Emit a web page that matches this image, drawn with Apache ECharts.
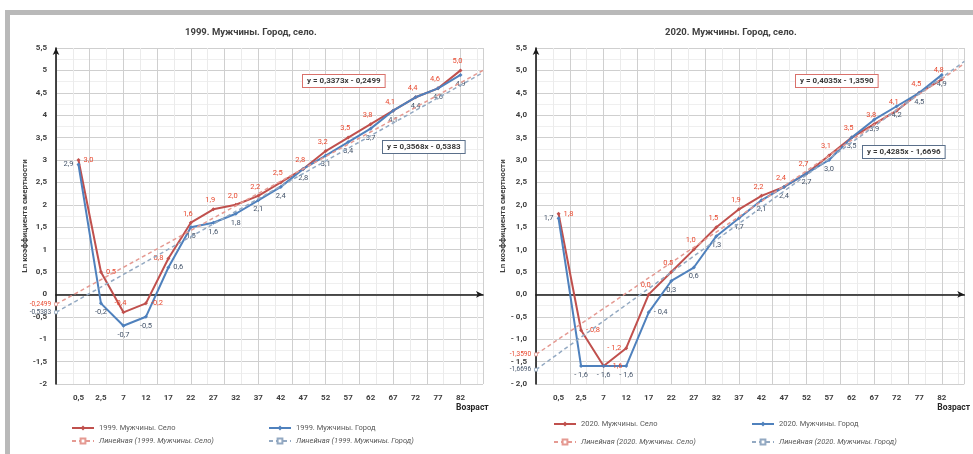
<!DOCTYPE html>
<html>
<head>
<meta charset="utf-8">
<script src="https://cdn.jsdelivr.net/npm/echarts@6/dist/echarts.min.js"></script>
<style>
body{margin:0;background:#fff}
#chart{position:absolute;left:0;top:0;width:973px;height:454px}
.frame{position:absolute;background:#b9b9b9}
</style>
</head>
<body>
<div id="chart"></div>
<div class="frame" style="left:5px;top:10px;width:968px;height:5px"></div>
<div class="frame" style="left:5px;top:10px;width:5px;height:444px"></div>
<script>
/** Ln коэффициента смертности, мужчины, город / село */

const AGES = ['0,5','2,5','7','12','17','22','27','32','37','42','47','52','57','62','67','72','77','82']

const SELO_1999  = [3.0, 0.5, -0.4, -0.2, 0.8, 1.6, 1.9, 2.0, 2.2, 2.5, 2.8, 3.2, 3.5, 3.8, 4.1, 4.4, 4.6, 5.0]
const GOROD_1999 = [2.9, -0.2, -0.7, -0.5, 0.6, 1.5, 1.6, 1.8, 2.1, 2.4, 2.8, 3.1, 3.4, 3.7, 4.1, 4.4, 4.6, 4.9]
const SELO_2020  = [1.8, -0.8, -1.6, -1.2, 0.0, 0.5, 1.0, 1.5, 1.9, 2.2, 2.4, 2.7, 3.1, 3.5, 3.8, 4.1, 4.5, 4.8]
const GOROD_2020 = [1.7, -1.6, -1.6, -1.6, -0.4, 0.3, 0.6, 1.3, 1.7, 2.1, 2.4, 2.7, 3.0, 3.5, 3.9, 4.2, 4.5, 4.9]

// линии тренда: начало у оси Y и конец у правого края
const TREND_X = [0, 19]
const TREND_SELO_1999  = [-0.22, 5.0]
const TREND_GOROD_1999 = [-0.40, 4.95]
const TREND_SELO_2020  = [-1.34, 5.15]
const TREND_GOROD_2020 = [-1.68, 5.2]

const INTERCEPTS_1999 = ['-0,2499', '-0,5383']
const INTERCEPTS_2020 = ['-1,3590', '-1,6696']
const EQUATIONS_1999 = ['y = 0,3373x - 0,2499', 'y = 0,3568x - 0,5383']
const EQUATIONS_2020 = ['y = 0,4035x - 1,3590', 'y = 0,4285x - 1,6696']

const Y_MIN = -2, Y_MAX = 5.5, Y_STEP = 0.5

const RED = '#c0504d', BLUE = '#4f81bd'
const RED_LABEL = '#e8492f', BLUE_LABEL = '#44546a'
const FONT = 'Roboto'

// положение подписей для первых точек (дальше - сверху / снизу)
const POS_SELO_1999  = ['right', 'right', 'top', 'right', 'left']
const POS_GOROD_1999 = ['left', 'bottom', 'bottom', 'bottom', 'right']
const POS_SELO_2020  = ['right', 'right', 'right', 'left', 'top']
const POS_GOROD_2020 = ['left', 'bottom', 'bottom', 'bottom', 'right']

/** число с запятой; spaced - "- 1,0" как в Excel-формате */
function fmt(v, digits, spaced) {
    let s = Math.abs(v).toFixed(digits).replace('.', ',')
    if (v < 0 && s.replace(/[0,]/g, '') !== '') s = (spaced ? '- ' : '-') + s
    return s
}

function lineSeries(name, g, values, color, labelColor, pos, defPos) {
    return {
        name: name,
        type: 'line',
        xAxisIndex: g * 3,
        yAxisIndex: g,
        data: values.map((v, i) => {
            let p = pos[i] || defPos
            return {
                value: [i + 1, v],
                label: { position: p, offset: p === 'top' && defPos === 'top' ? [-3, 0] : [0, 0] }
            }
        }),
        symbol: 'diamond',
        symbolSize: 4,
        lineStyle: { color: color, width: 2 },
        itemStyle: { color: color },
        label: {
            show: true, fontSize: 7.5, fontFamily: FONT, color: labelColor, distance: 3,
            formatter: p => fmt(p.value[1], 1, g === 1)
        },
        z: 3
    }
}

function trendSeries(name, g, ends, color, labelColor, intercept) {
    return {
        name: name,
        type: 'line',
        xAxisIndex: g * 3,
        yAxisIndex: g,
        data: TREND_X.map((x, i) => ({
            value: [x, ends[i]],
            symbolSize: i === 0 ? 3 : 0,
            label: { show: i === 0 }
        })),
        symbol: 'rect',
        showSymbol: true,
        lineStyle: { color: color, width: 1.5, type: [4, 3] },
        itemStyle: { color: '#fff', borderColor: color, borderWidth: 0.8 },
        label: {
            position: 'left', distance: 3, fontSize: 6.5, fontFamily: FONT, color: labelColor,
            formatter: () => intercept
        },
        z: 4
    }
}

function axesFor(g, yFmt) {
    let xs = [
        {   // подписи возрастов
            gridIndex: g, type: 'value', min: 0, max: 19, interval: 1, position: 'bottom',
            axisLine: { show: false, onZero: false }, axisTick: { show: false }, splitLine: { show: false },
            axisLabel: {
                fontSize: 8, fontWeight: 'bold', fontFamily: FONT, color: '#404040', margin: 10,
                formatter: v => AGES[Math.round(v) - 1] || ''
            },
            name: 'Возраст', nameLocation: 'end', nameGap: -27,
            nameTextStyle: { align: 'left', verticalAlign: 'top', padding: [19, 0, 0, 0],
                fontSize: 8.5, fontWeight: 'bold', fontFamily: FONT, color: '#262626' }
        },
        {   // вертикальная сетка
            gridIndex: g, type: 'value', min: 0, max: 19, startValue: 1, interval: 1.5, position: 'top',
            axisLine: { show: false, onZero: false }, axisTick: { show: false }, axisLabel: { show: false },
            splitLine: { show: true, lineStyle: { color: '#cfcfcf' } },
            minorTick: { show: false, splitNumber: 2 },
            minorSplitLine: { show: true, lineStyle: { color: '#ebebeb' } }
        },
        {   // ось на нуле со стрелкой
            gridIndex: g, type: 'value', min: 0, max: 19,
            axisLine: { show: true, onZero: true, symbol: ['none', 'arrow'], symbolSize: [5, 7],
                lineStyle: { color: '#1a1a1a', width: 1.6 } },
            axisTick: { show: false }, axisLabel: { show: false }, splitLine: { show: false }
        }
    ]
    let y = {
        gridIndex: g, type: 'value', min: Y_MIN, max: Y_MAX, interval: Y_STEP,
        axisLine: { show: true, symbol: ['none', 'arrow'], symbolSize: [5, 7],
            lineStyle: { color: '#1a1a1a', width: 1.6 } },
        axisTick: { show: false },
        axisLabel: { fontSize: 8, fontWeight: 'bold', fontFamily: FONT, color: '#404040', margin: 9, formatter: yFmt },
        splitLine: { lineStyle: { color: '#cfcfcf' } },
        minorTick: { show: false, splitNumber: 2 },
        minorSplitLine: { show: true, lineStyle: { color: '#efefef' } },
        name: 'Ln коэффициента смертности', nameLocation: 'middle', nameGap: 27,
        nameTextStyle: { fontSize: 8, fontWeight: 'bold', fontFamily: FONT, color: '#404040' }
    }
    return [xs, y]
}

function legendItem(name, left, top, italic) {
    return {
        data: [name], left: left, top: top, itemWidth: 22, itemHeight: 6,
        textStyle: { fontSize: 7.5, fontFamily: FONT, color: '#595959', fontStyle: italic ? 'italic' : 'normal' }
    }
}

function eqBox(text, left, top, border) {
    return {
        type: 'text', left: left, top: top, z: 100,
        style: { text: text, font: 'bold 8px ' + FONT, fill: '#3a3a3a',
            backgroundColor: '#fff', borderColor: border, borderWidth: 1, padding: [2, 4] }
    }
}

let chart = echarts.init(document.getElementById('chart'))

let a1999 = axesFor(0, v => String(v).replace('.', ','))
let a2020 = axesFor(1, v => fmt(v, 1, true))

let names = {
    s99: '1999. Мужчины. Село', g99: '1999. Мужчины. Город',
    ts99: 'Линейная (1999. Мужчины. Село)', tg99: 'Линейная (1999. Мужчины. Город)',
    s20: '2020. Мужчины. Село', g20: '2020. Мужчины. Город',
    ts20: 'Линейная (2020. Мужчины. Село)', tg20: 'Линейная (2020. Мужчины. Город)'
}

chart.setOption({
    backgroundColor: '#fff',
    animation: false,
    textStyle: { fontFamily: FONT },
    title: [
        { text: '1999. Мужчины. Город, село.', left: 180, top: 23,
          textStyle: { fontSize: 9.5, fontWeight: 'bold', fontFamily: FONT, color: '#404040' } },
        { text: '2020. Мужчины. Город, село.', left: 660, top: 23,
          textStyle: { fontSize: 9.5, fontWeight: 'bold', fontFamily: FONT, color: '#404040' } }
    ],
    grid: [
        { left: 56, top: 48, width: 427, height: 336 },
        { left: 536, top: 48, width: 429, height: 336 }
    ],
    xAxis: a1999[0].concat(a2020[0]),
    yAxis: [a1999[1], a2020[1]],
    legend: [
        legendItem(names.s99, 66, 419), legendItem(names.g99, 263, 419),
        legendItem(names.ts99, 66, 432, true), legendItem(names.tg99, 263, 432, true),
        legendItem(names.s20, 548, 415), legendItem(names.g20, 746, 415),
        legendItem(names.ts20, 548, 433, true), legendItem(names.tg20, 746, 433, true)
    ],
    graphic: [
        eqBox(EQUATIONS_1999[0], 302, 74, '#d9716b'),
        eqBox(EQUATIONS_1999[1], 382, 140, '#5a6f8a'),
        eqBox(EQUATIONS_2020[0], 795, 74, '#d9716b'),
        eqBox(EQUATIONS_2020[1], 862, 145, '#5a6f8a')
    ],
    series: [
        lineSeries(names.s99, 0, SELO_1999, RED, RED_LABEL, POS_SELO_1999, 'top'),
        lineSeries(names.g99, 0, GOROD_1999, BLUE, BLUE_LABEL, POS_GOROD_1999, 'bottom'),
        trendSeries(names.ts99, 0, TREND_SELO_1999, '#e59a92', RED_LABEL, INTERCEPTS_1999[0]),
        trendSeries(names.tg99, 0, TREND_GOROD_1999, '#93a9c2', BLUE_LABEL, INTERCEPTS_1999[1]),
        lineSeries(names.s20, 1, SELO_2020, RED, RED_LABEL, POS_SELO_2020, 'top'),
        lineSeries(names.g20, 1, GOROD_2020, BLUE, BLUE_LABEL, POS_GOROD_2020, 'bottom'),
        trendSeries(names.ts20, 1, TREND_SELO_2020, '#e59a92', RED_LABEL, INTERCEPTS_2020[0]),
        trendSeries(names.tg20, 1, TREND_GOROD_2020, '#93a9c2', BLUE_LABEL, INTERCEPTS_2020[1])
    ]
})
</script>
</body>
</html>
